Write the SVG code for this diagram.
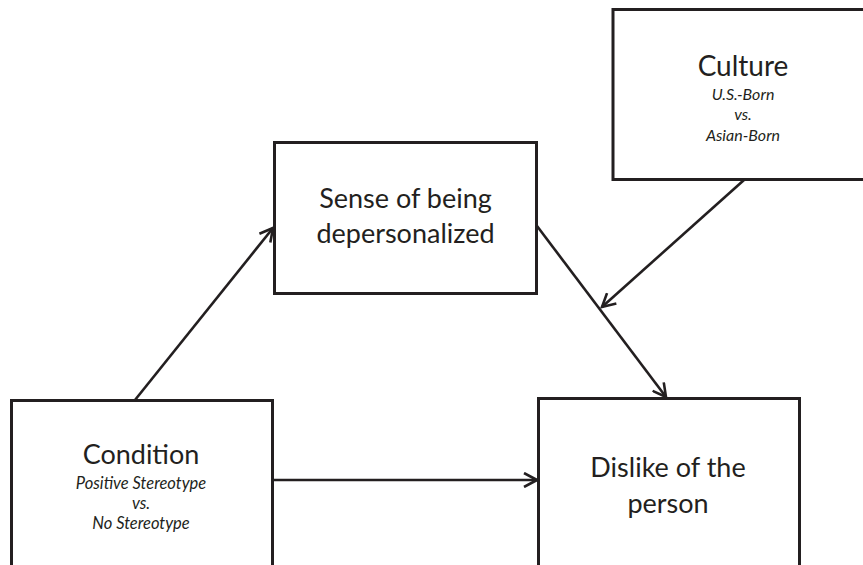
<svg xmlns="http://www.w3.org/2000/svg" width="863" height="565" viewBox="0 0 863 565">
<defs>
<style>
.box{fill:#fff;stroke:#231f20;stroke-width:3}
.main{font-family:Lato,"Open Sans","DejaVu Sans",sans-serif;font-size:27px;fill:#231f20;text-anchor:middle}
.sub{font-family:Lato,"Open Sans","DejaVu Sans",sans-serif;font-size:16px;font-style:italic;fill:#231f20;text-anchor:middle}
.conn{fill:none;stroke:#231f20;stroke-width:2.6}
</style>
<marker id="arr" viewBox="0 0 16 16" refX="14" refY="8" markerWidth="16" markerHeight="16" markerUnits="userSpaceOnUse" orient="auto">
<path d="M1,1 L14,8 L1,15" fill="none" stroke="#231f20" stroke-width="2.6"/>
</marker>
</defs>
<rect width="863" height="565" fill="#fff"/>
<g id="culture">
<rect class="box" x="613" y="9.5" width="260" height="170"/>
<text class="main" x="743" y="76" style="font-size:28px">Culture</text>
<text class="sub" x="743" y="100">U.S.-Born</text>
<text class="sub" x="743" y="120">vs.</text>
<text class="sub" x="743" y="141">Asian-Born</text>
</g>
<g id="sense">
<rect class="box" x="274.5" y="142.5" width="262" height="151"/>
<text class="main" x="405.5" y="208">Sense of being</text>
<text class="main" x="405.5" y="243">depersonalized</text>
</g>
<g id="condition">
<rect class="box" x="11.5" y="400.5" width="261" height="180"/>
<text class="main" x="141" y="464">Condition</text>
<text class="sub" x="141" y="489" style="font-size:16.5px">Positive Stereotype</text>
<text class="sub" x="141" y="509" style="font-size:16.5px">vs.</text>
<text class="sub" x="141" y="529" style="font-size:16.5px">No Stereotype</text>
</g>
<g id="dislike">
<rect class="box" x="538.5" y="398.5" width="261" height="180"/>
<text class="main" x="668" y="477">Dislike of the</text>
<text class="main" x="668" y="513">person</text>
</g>
<g id="connectors">
<line class="conn" x1="135" y1="400" x2="273" y2="228" marker-end="url(#arr)"/>
<line class="conn" x1="272" y1="480" x2="537" y2="480" marker-end="url(#arr)"/>
<line class="conn" x1="537" y1="226" x2="666" y2="397" marker-end="url(#arr)"/>
<line class="conn" x1="744" y1="180" x2="602" y2="307" marker-end="url(#arr)"/>
</g>
</svg>
